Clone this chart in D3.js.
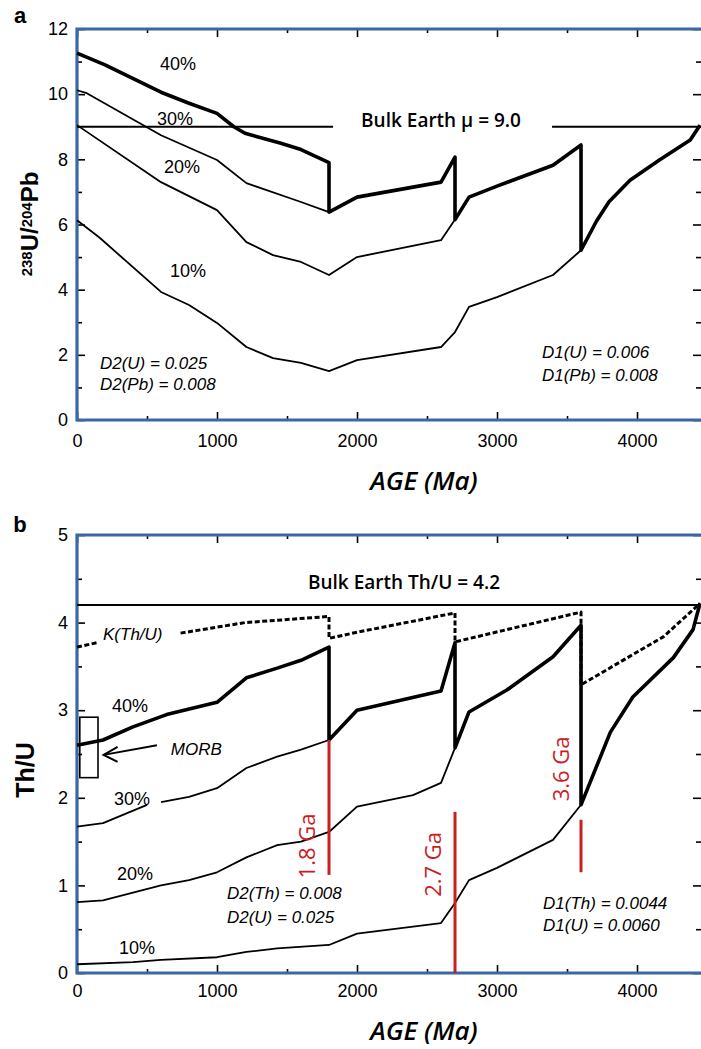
<!DOCTYPE html>
<html><head><meta charset="utf-8">
<script src="https://cdn.jsdelivr.net/npm/d3@7"></script>
<style>
body{margin:0;background:#fff;}
svg{display:block;}
.tick text{font-family:"Liberation Sans",Arial,sans-serif;font-size:18px;fill:#000;}
.tick line{stroke:#000;stroke-width:1.6;}
</style></head>
<body><svg id="c" width="701" height="1049"></svg>
<script>
// ---------- Panel a data (238U/204Pb vs age, Ma) ----------
const aAge40 = [0,200,600,800,1000,1120,1200,1450,1600,1800,1800,2000,2600,2700,2700,2800,3000,3400,3600,3600,3710,3800,3950,4160,4380,4450];
const aMu40  = [11.26,10.9,10.06,9.72,9.41,9.0,8.8,8.5,8.3,7.9,6.38,6.84,7.3,8.07,6.15,6.84,7.18,7.82,8.44,5.21,6.1,6.7,7.36,7.98,8.59,9.05];
const aAge30 = [0,70,600,1000,1210,1600,1800];
const aMu30  = [10.12,10.03,8.74,7.98,7.27,6.69,6.38];
const aAge20 = [0,600,1000,1210,1400,1600,1800,2000,2600,2700];
const aMu20  = [9.05,7.3,6.44,5.46,5.06,4.85,4.45,5.0,5.52,6.15];
const aAge10 = [0,160,600,800,1000,1210,1400,1600,1800,2000,2600,2700,2800,3000,3400,3600];
const aMu10  = [6.13,5.6,3.93,3.53,2.98,2.24,1.9,1.75,1.5,1.84,2.24,2.7,3.47,3.77,4.45,5.21];
const aBulkMu = 9.0;
const aBulkSegments = [[0,1829],[3393,4457]];

// ---------- Panel b data (Th/U vs age, Ma) ----------
const bAge40 = [0,186,400,640,1000,1210,1430,1600,1800,1800,2000,2600,2700,2700,2800,3070,3400,3600,3600,3810,3970,4260,4400,4450];
const bTh40  = [2.60,2.66,2.81,2.95,3.09,3.37,3.48,3.57,3.72,2.66,3.0,3.22,3.77,2.57,2.98,3.23,3.61,3.97,1.92,2.75,3.15,3.6,3.92,4.22];
const bAge30 = [0,186,500,null,600,800,1000,1210,1430,1600,1800];
const bTh30  = [1.67,1.71,1.92,null,1.95,2.01,2.11,2.34,2.47,2.55,2.66];
const bAge20 = [0,186,600,800,1000,1210,1430,1600,1800,2000,2400,2600,2700];
const bTh20  = [0.81,0.83,1.0,1.06,1.15,1.32,1.46,1.50,1.61,1.9,2.03,2.17,2.57];
const bAge10 = [0,400,600,1000,1210,1430,1800,2000,2600,2700,2800,3000,3400,3600];
const bTh10  = [0.10,0.125,0.15,0.18,0.24,0.28,0.32,0.45,0.57,0.80,1.06,1.2,1.52,1.92];
const bAgeK  = [0,140,null,740,1200,1800,1800,2000,2700,2700,3600,3600,4190,4450];
const bThK   = [3.72,3.77,null,3.88,4.0,4.07,3.82,3.89,4.11,3.78,4.12,3.29,3.84,4.22];
const bBulkThU = 4.2;
const redAges = [1800,2700,3600];
const redLow  = [1.12,0,1.15];
const redHigh = [2.66,1.84,1.75];
const redLabels = ["1.8 Ga","2.7 Ga","3.6 Ga"];
const morbAge = [20,150];
const morbThU = [2.23,2.92];

// tick values
const xMajor = [0,1000,2000,3000,4000];
const xMinor = [500,1500,2500,3500,4500];
const aYMajor = [0,2,4,6,8,10,12];
const aYMinor = [1,3,5,7,9,11];
const bYMajor = [0,1,2,3,4,5];
const bYMinor = [0.5,1.5,2.5,3.5,4.5];

const svg = d3.select("#c");
const BLUE = "#3b67a3", RED = "#c8201e";
const sans = '"Liberation Sans",Arial,sans-serif';
const calib = '"Open Sans",sans-serif';

const x = d3.scaleLinear().domain([0,4457]).range([77,701]);
const yA = d3.scaleLinear().domain([0,12]).range([420,29]);
const yB = d3.scaleLinear().domain([0,5]).range([973,535]);

function zip(a,b){return a.map((v,i)=>[v,b[i]]);}

function axes(y, yMaj, yMin, padX){
  const g = svg.append("g");
  const top = y.range()[1], bot = y.range()[0];
  g.append("g").attr("transform",`translate(0,${bot})`)
    .call(d3.axisBottom(x).tickValues(xMajor).tickSize(-8).tickPadding(padX).tickFormat(d3.format("d")));
  g.append("g").attr("transform",`translate(0,${bot})`)
    .call(d3.axisBottom(x).tickValues(xMinor.filter(v=>v<4457)).tickSize(-4).tickFormat(""));
  g.append("g").attr("transform",`translate(0,${top})`)
    .call(d3.axisTop(x).tickValues(xMajor).tickSize(-8).tickFormat(""));
  g.append("g").attr("transform",`translate(0,${top})`)
    .call(d3.axisTop(x).tickValues(xMinor.filter(v=>v<4457)).tickSize(-4).tickFormat(""));
  g.append("g").attr("transform",`translate(77,0)`)
    .call(d3.axisLeft(y).tickValues(yMaj).tickSize(-8).tickPadding(9).tickFormat(d3.format("d")));
  g.append("g").attr("transform",`translate(77,0)`)
    .call(d3.axisLeft(y).tickValues(yMin).tickSize(-5).tickFormat(""));
  g.append("g").attr("transform",`translate(701,0)`)
    .call(d3.axisRight(y).tickValues(yMaj).tickSize(-8).tickFormat(""));
  g.append("g").attr("transform",`translate(701,0)`)
    .call(d3.axisRight(y).tickValues(yMin).tickSize(-5).tickFormat(""));
  g.selectAll(".domain").remove();
  const f = svg.append("g").attr("stroke",BLUE).attr("stroke-width",3.2).attr("fill","none");
  f.append("path").attr("d",`M701,${top}H77V${bot}H701`);
}

function curve(y, ages, vals, w, dash){
  const line = d3.line().defined(d=>d[0]!==null).x(d=>x(d[0])).y(d=>y(d[1]));
  svg.append("path").datum(zip(ages,vals)).attr("d",line)
    .attr("fill","none").attr("stroke","#000").attr("stroke-width",w)
    .attr("stroke-linejoin","round").attr("stroke-dasharray",dash||null);
}

function txt(px,py,s,opt){
  const t = svg.append("text").attr("x",px).attr("y",py).text(s)
    .attr("font-family",opt.ff||sans).attr("font-size",opt.fs||18)
    .attr("font-style",opt.it?"italic":"normal").attr("font-weight",opt.fw||"normal")
    .attr("text-anchor",opt.anchor||"start").attr("fill",opt.fill||"#000");
  if(opt.rot) t.attr("transform",`rotate(-90,${px},${py})`);
  return t;
}

// ================= Panel a =================
axes(yA, aYMajor, aYMinor, 14);
aBulkSegments.forEach(s=>{
  svg.append("line").attr("x1",x(s[0])).attr("x2",x(s[1])).attr("y1",yA(aBulkMu)).attr("y2",yA(aBulkMu))
    .attr("stroke","#000").attr("stroke-width",2);
});
curve(yA,aAge30,aMu30,1.8);
curve(yA,aAge20,aMu20,1.8);
curve(yA,aAge10,aMu10,1.8);
curve(yA,aAge40,aMu40,3.6);

txt(x(721),yA(10.95)+7,"40%",{anchor:"middle"});
txt(x(700),yA(9.26)+7,"30%",{anchor:"middle"});
txt(x(750),yA(7.8)+7,"20%",{anchor:"middle"});
txt(x(793),yA(4.6)+7,"10%",{anchor:"middle"});
txt(x(2600),yA(9.0),"Bulk Earth μ = 9.0",{ff:calib,fs:19,fw:600,anchor:"middle"});
txt(x(164),yA(1.75)+6,"D2(U) = 0.025",{it:true,fs:17});
txt(x(164),yA(1.1)+6,"D2(Pb) = 0.008",{it:true,fs:17});
txt(x(3321),yA(2.1)+6,"D1(U) = 0.006",{it:true,fs:17});
txt(x(3321),yA(1.38)+6,"D1(Pb) = 0.008",{it:true,fs:17});
txt(424,490,"AGE (Ma)",{ff:calib,fs:26,fw:600,it:true,anchor:"middle"});
{
  const t = svg.append("text").attr("transform","translate(38,224) rotate(-90)")
    .attr("text-anchor","middle").attr("font-family",sans).attr("font-weight","bold").attr("font-size",24);
  t.append("tspan").text("238").attr("font-size",15).attr("baseline-shift","40%");
  t.append("tspan").text("U/");
  t.append("tspan").text("204").attr("font-size",15).attr("baseline-shift","40%");
  t.append("tspan").text("Pb");
}
txt(20,23,"a",{fw:"bold",fs:22,anchor:"middle"});

// ================= Panel b =================
axes(yB, bYMajor, bYMinor, 11);
svg.append("line").attr("x1",x(0)).attr("x2",x(4457)).attr("y1",yB(bBulkThU)).attr("y2",yB(bBulkThU))
  .attr("stroke","#000").attr("stroke-width",2);
curve(yB,bAgeK,bThK,3,"5,2.5");
curve(yB,bAge30,bTh30,1.8);
curve(yB,bAge20,bTh20,1.8);
curve(yB,bAge10,bTh10,1.8);
curve(yB,bAge40,bTh40,3.6);

svg.append("rect").attr("x",x(morbAge[0])).attr("y",yB(morbThU[1]))
  .attr("width",x(morbAge[1])-x(morbAge[0])).attr("height",yB(morbThU[0])-yB(morbThU[1]))
  .attr("fill","none").attr("stroke","#000").attr("stroke-width",1.6);
svg.append("line").attr("x1",x(571)).attr("y1",yB(2.6)).attr("x2",x(190)).attr("y2",yB(2.49))
  .attr("stroke","#000").attr("stroke-width",1.8);
{
  const ax = x(190), ay = yB(2.49);
  svg.append("path").attr("d",`M${ax+14},${ay-8}L${ax},${ay}L${ax+14},${ay+7}`)
    .attr("fill","none").attr("stroke","#000").attr("stroke-width",2);
}
txt(x(670),yB(2.56)+6,"MORB",{it:true,fs:17});

redAges.forEach((a,i)=>{
  svg.append("line").attr("x1",x(a)).attr("x2",x(a)).attr("y1",yB(redLow[i])).attr("y2",yB(redHigh[i]))
    .attr("stroke",RED).attr("stroke-width",3);
});
const redPos = [[1636,1.45],[2536,1.24],[3450,2.33]];
redLabels.forEach((s,i)=>{
  const px = x(redPos[i][0])+9, py = yB(redPos[i][1]);
  txt(px,py,s,{ff:calib,fs:22,fw:500,fill:RED,anchor:"middle",rot:true});
});

txt(x(379),yB(3.06)+7,"40%",{anchor:"middle"});
txt(x(393),yB(2.0)+7,"30%",{anchor:"middle"});
txt(x(414),yB(1.14)+7,"20%",{anchor:"middle"});
txt(x(429),yB(0.30)+7,"10%",{anchor:"middle"});
txt(x(186),yB(3.87)+6,"K(Th/U)",{it:true,fs:17});
txt(404,589,"Bulk Earth Th/U = 4.2",{ff:calib,fs:19,fw:600,anchor:"middle"});
txt(x(1071),yB(0.91)+6,"D2(Th) = 0.008",{it:true,fs:17});
txt(x(1071),yB(0.64)+6,"D2(U) = 0.025",{it:true,fs:17});
txt(x(3329),yB(0.80)+6,"D1(Th) = 0.0044",{it:true,fs:17});
txt(x(3329),yB(0.55)+6,"D1(U) = 0.0060",{it:true,fs:17});
txt(424,1040,"AGE (Ma)",{ff:calib,fs:26,fw:600,it:true,anchor:"middle"});
txt(34,770,"Th/U",{fw:"bold",fs:25,anchor:"middle",rot:true});
txt(20,532,"b",{fw:"bold",fs:22,anchor:"middle"});
</script></body></html>
